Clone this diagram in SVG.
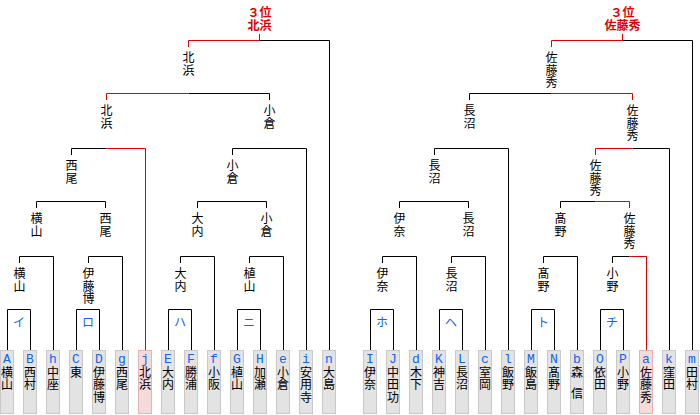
<svg xmlns="http://www.w3.org/2000/svg" width="700" height="415" viewBox="0 0 700 415">
<style>
.bg{fill:#fff}
.ln{fill:none;stroke:#000;stroke-width:1}
.rd{fill:none;stroke:#e00000;stroke-width:1}
.box{fill:#e3e3e3;stroke:#c8c8c8;stroke-width:1}
.pbox{fill:#f5dada;stroke:#e2b4b4;stroke-width:1}
.nm{font-family:"Noto Sans CJK JP","Noto Sans CJK SC",sans-serif;font-size:12px;fill:#000;writing-mode:vertical-rl;text-orientation:upright;letter-spacing:0.5px}
.lt{font-family:"Liberation Mono","DejaVu Sans Mono",monospace;font-size:13px;fill:#1464f0;text-anchor:middle}
.pl{font-family:"Noto Sans CJK JP","Noto Sans CJK SC",sans-serif;font-size:12px;fill:#1464f0;text-anchor:middle}
.top{font-family:"Noto Sans CJK JP","Noto Sans CJK SC",sans-serif;font-size:12px;font-weight:bold;fill:#e00000;text-anchor:middle}
</style>
<rect class="bg" x="0" y="0" width="700" height="415"/>
<g id="connectors">
<path class="ln" d="M7.5 350V309.5H30.5V350M76.5 350V309.5H99.5V350M168.5 350V309.5H191.5V350M237.5 350V309.5H260.5V350M370.5 350V309.5H393.5V350M439.5 350V309.5H462.5V350M531.5 350V309.5H554.5V350M600.5 350V309.5H623.5V350"/>
<path class="ln" d="M19.5 263V256.5H53.5V350M88.5 263V256.5H122.5V350M180.5 263V256.5H214.5V350M249.5 263V256.5H283.5V350M382.5 263V256.5H416.5V350M451.5 263V256.5H485.5V350M543.5 263V256.5H577.5V350M612.5 263V256.5H629.5"/>
<path class="rd" d="M629.5 256.5H646.5V350"/>
<path class="ln" d="M36.5 208V201.5H105.5V208M197.5 208V201.5H266.5V208M399.5 208V201.5H468.5V208M560.5 208V201.5H595.5"/>
<path class="rd" d="M595.5 201.5H629.5V208"/>
<path class="ln" d="M71.5 155V148.5H106.5M232.5 155V148.5H306.5V350M434.5 155V148.5H508.5V350M632.5 148.5H669.5V350"/>
<path class="rd" d="M106.5 148.5H145.5V350M595.5 155V148.5H632.5"/>
<path class="ln" d="M188.5 93.5H269.5V100M469.5 100V93.5H551.5"/>
<path class="rd" d="M106.5 100V93.5H188.5M551.5 93.5H632.5V100"/>
<path class="ln" d="M259.5 40.5H329.5V350M622.5 40.5H692.5V350"/>
<path class="rd" d="M188.5 47V40.5H259.5M259.5 34V40.5M551.5 47V40.5H622.5M622.5 34V40.5"/>
</g>
<g id="final-left">
<text class="top" x="259.5" y="17">３位</text>
<text class="top" x="259.5" y="30">北浜</text>
</g>
<g id="final-right">
<text class="top" x="622.5" y="17">３位</text>
<text class="top" x="622.5" y="30">佐藤秀</text>
</g>
<g id="pair-labels">
<text class="pl" x="19" y="327">イ</text>
<text class="pl" x="88" y="327">ロ</text>
<text class="pl" x="180" y="327">ハ</text>
<text class="pl" x="249" y="327">ニ</text>
<text class="pl" x="382" y="327">ホ</text>
<text class="pl" x="451" y="327">ヘ</text>
<text class="pl" x="543" y="327">ト</text>
<text class="pl" x="612" y="327">チ</text>
</g>
<g id="winners">
<g id="w-yokoyama1"><text class="nm" x="19.5" y="267.5">横山</text></g>
<g id="w-itohiro"><text class="nm" x="88.5" y="267.5">伊藤博</text></g>
<g id="w-ouchi1"><text class="nm" x="180.5" y="267.5">大内</text></g>
<g id="w-ueyama"><text class="nm" x="249.5" y="267.5">植山</text></g>
<g id="w-ina1"><text class="nm" x="382.5" y="267.5">伊奈</text></g>
<g id="w-naganuma1"><text class="nm" x="451.5" y="267.5">長沼</text></g>
<g id="w-takano1"><text class="nm" x="543.5" y="267.5">髙野</text></g>
<g id="w-ono"><text class="nm" x="612.5" y="267.5">小野</text></g>
<g id="w-yokoyama2"><text class="nm" x="36.5" y="212.5">横山</text></g>
<g id="w-nishio1"><text class="nm" x="105.5" y="212.5">西尾</text></g>
<g id="w-ouchi2"><text class="nm" x="197.5" y="212.5">大内</text></g>
<g id="w-ogura1"><text class="nm" x="266.5" y="212.5">小倉</text></g>
<g id="w-ina2"><text class="nm" x="399.5" y="212.5">伊奈</text></g>
<g id="w-naganuma2"><text class="nm" x="468.5" y="212.5">長沼</text></g>
<g id="w-takano2"><text class="nm" x="560.5" y="212.5">髙野</text></g>
<g id="w-sato1"><text class="nm" x="629.5" y="212.5">佐藤秀</text></g>
<g id="w-nishio2"><text class="nm" x="71.5" y="159.5">西尾</text></g>
<g id="w-ogura2"><text class="nm" x="232.5" y="159.5">小倉</text></g>
<g id="w-naganuma3"><text class="nm" x="434.5" y="159.5">長沼</text></g>
<g id="w-sato2"><text class="nm" x="595.5" y="159.5">佐藤秀</text></g>
<g id="w-kitahama1"><text class="nm" x="106.5" y="104.5">北浜</text></g>
<g id="w-ogura3"><text class="nm" x="269.5" y="104.5">小倉</text></g>
<g id="w-naganuma4"><text class="nm" x="469.5" y="104.5">長沼</text></g>
<g id="w-sato3"><text class="nm" x="632.5" y="104.5">佐藤秀</text></g>
<g id="w-kitahama2"><text class="nm" x="188.5" y="51.5">北浜</text></g>
<g id="w-sato4"><text class="nm" x="551.5" y="51.5">佐藤秀</text></g>
</g>
<g id="players">
<g id="p-A"><rect class="box" x="0.5" y="350.5" width="13" height="63"/><text class="lt" x="7" y="363">A</text><text class="nm" x="7" y="366">横山</text></g>
<g id="p-B"><rect class="box" x="23.5" y="350.5" width="13" height="63"/><text class="lt" x="30" y="363">B</text><text class="nm" x="30" y="366">西村</text></g>
<g id="p-h"><rect class="box" x="46.5" y="350.5" width="13" height="63"/><text class="lt" x="53" y="363">h</text><text class="nm" x="53" y="366">中座</text></g>
<g id="p-C"><rect class="box" x="69.5" y="350.5" width="13" height="63"/><text class="lt" x="76" y="363">C</text><text class="nm" x="76" y="366">東</text></g>
<g id="p-D"><rect class="box" x="92.5" y="350.5" width="13" height="63"/><text class="lt" x="99" y="363">D</text><text class="nm" x="99" y="366">伊藤博</text></g>
<g id="p-g"><rect class="box" x="115.5" y="350.5" width="13" height="63"/><text class="lt" x="122" y="363">g</text><text class="nm" x="122" y="366">西尾</text></g>
<g id="p-j"><rect class="pbox" x="138.5" y="350.5" width="13" height="63"/><text class="lt" x="145" y="363">j</text><text class="nm" x="145" y="366">北浜</text></g>
<g id="p-E"><rect class="box" x="161.5" y="350.5" width="13" height="63"/><text class="lt" x="168" y="363">E</text><text class="nm" x="168" y="366">大内</text></g>
<g id="p-F"><rect class="box" x="184.5" y="350.5" width="13" height="63"/><text class="lt" x="191" y="363">F</text><text class="nm" x="191" y="366">勝浦</text></g>
<g id="p-f"><rect class="box" x="207.5" y="350.5" width="13" height="63"/><text class="lt" x="214" y="363">f</text><text class="nm" x="214" y="366">小阪</text></g>
<g id="p-G"><rect class="box" x="230.5" y="350.5" width="13" height="63"/><text class="lt" x="237" y="363">G</text><text class="nm" x="237" y="366">植山</text></g>
<g id="p-H"><rect class="box" x="253.5" y="350.5" width="13" height="63"/><text class="lt" x="260" y="363">H</text><text class="nm" x="260" y="366">加瀬</text></g>
<g id="p-e"><rect class="box" x="276.5" y="350.5" width="13" height="63"/><text class="lt" x="283" y="363">e</text><text class="nm" x="283" y="366">小倉</text></g>
<g id="p-i"><rect class="box" x="299.5" y="350.5" width="13" height="63"/><text class="lt" x="306" y="363">i</text><text class="nm" x="306" y="366">安用寺</text></g>
<g id="p-n"><rect class="box" x="322.5" y="350.5" width="13" height="63"/><text class="lt" x="329" y="363">n</text><text class="nm" x="329" y="366">大島</text></g>
<g id="p-I"><rect class="box" x="363.5" y="350.5" width="13" height="63"/><text class="lt" x="370" y="363">I</text><text class="nm" x="370" y="366">伊奈</text></g>
<g id="p-J"><rect class="box" x="386.5" y="350.5" width="13" height="63"/><text class="lt" x="393" y="363">J</text><text class="nm" x="393" y="366">中田功</text></g>
<g id="p-d"><rect class="box" x="409.5" y="350.5" width="13" height="63"/><text class="lt" x="416" y="363">d</text><text class="nm" x="416" y="366">木下</text></g>
<g id="p-K"><rect class="box" x="432.5" y="350.5" width="13" height="63"/><text class="lt" x="439" y="363">K</text><text class="nm" x="439" y="366">神吉</text></g>
<g id="p-L"><rect class="box" x="455.5" y="350.5" width="13" height="63"/><text class="lt" x="462" y="363">L</text><text class="nm" x="462" y="366">長沼</text></g>
<g id="p-c"><rect class="box" x="478.5" y="350.5" width="13" height="63"/><text class="lt" x="485" y="363">c</text><text class="nm" x="485" y="366">室岡</text></g>
<g id="p-l"><rect class="box" x="501.5" y="350.5" width="13" height="63"/><text class="lt" x="508" y="363">l</text><text class="nm" x="508" y="366">飯野</text></g>
<g id="p-M"><rect class="box" x="524.5" y="350.5" width="13" height="63"/><text class="lt" x="531" y="363">M</text><text class="nm" x="531" y="366">飯島</text></g>
<g id="p-N"><rect class="box" x="547.5" y="350.5" width="13" height="63"/><text class="lt" x="554" y="363">N</text><text class="nm" x="554" y="366">髙野</text></g>
<g id="p-b"><rect class="box" x="570.5" y="350.5" width="13" height="63"/><text class="lt" x="577" y="363">b</text><text class="nm" x="577" y="366">森</text><text class="nm" x="577" y="387">信</text></g>
<g id="p-O"><rect class="box" x="593.5" y="350.5" width="13" height="63"/><text class="lt" x="600" y="363">O</text><text class="nm" x="600" y="366">依田</text></g>
<g id="p-P"><rect class="box" x="616.5" y="350.5" width="13" height="63"/><text class="lt" x="623" y="363">P</text><text class="nm" x="623" y="366">小野</text></g>
<g id="p-a"><rect class="pbox" x="639.5" y="350.5" width="13" height="63"/><text class="lt" x="646" y="363">a</text><text class="nm" x="646" y="366">佐藤秀</text></g>
<g id="p-k"><rect class="box" x="662.5" y="350.5" width="13" height="63"/><text class="lt" x="669" y="363">k</text><text class="nm" x="669" y="366">窪田</text></g>
<g id="p-m"><rect class="box" x="685.5" y="350.5" width="13" height="63"/><text class="lt" x="692" y="363">m</text><text class="nm" x="692" y="366">田村</text></g>
</g>
</svg>
